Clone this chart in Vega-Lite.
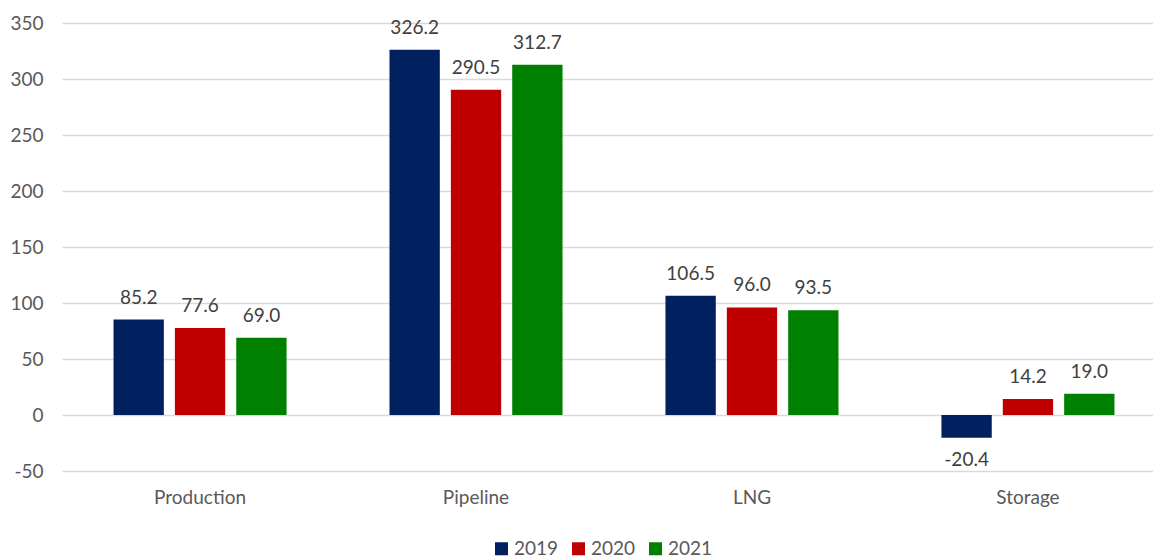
{
  "$schema": "https://vega.github.io/schema/vega-lite/v6.json",
  "width": 1104,
  "height": 448,
  "autosize": "none",
  "padding": {"left": 62, "top": 23, "right": 0, "bottom": 87},
  "config": {"view": {"stroke": null}, "font": "Lato", "text": {"font": "Lato"},
    "locale": {"number": {"decimal": ".", "thousands": ",", "grouping": [3], "currency": ["$", ""], "minus": "-"}}},
  "data": {"values": [
    {"category": "Production", "year": "2019", "value": 85.2},
    {"category": "Production", "year": "2020", "value": 77.6},
    {"category": "Production", "year": "2021", "value": 69.0},
    {"category": "Pipeline", "year": "2019", "value": 326.2},
    {"category": "Pipeline", "year": "2020", "value": 290.5},
    {"category": "Pipeline", "year": "2021", "value": 312.7},
    {"category": "LNG", "year": "2019", "value": 106.5},
    {"category": "LNG", "year": "2020", "value": 96.0},
    {"category": "LNG", "year": "2021", "value": 93.5},
    {"category": "Storage", "year": "2019", "value": -20.4},
    {"category": "Storage", "year": "2020", "value": 14.2},
    {"category": "Storage", "year": "2021", "value": 19.0}
  ]},
  "encoding": {
    "x": {"field": "category", "type": "nominal", "sort": ["Production", "Pipeline", "LNG", "Storage"],
      "scale": {"paddingInner": 0.333, "paddingOuter": 0.1667},
      "axis": {"title": null, "labelAngle": 0, "ticks": false, "domain": false, "labelPadding": 17, "labelFontSize": 19, "labelColor": "#595959", "labelFont": "Lato"}},
    "xOffset": {"field": "year", "type": "nominal", "scale": {"paddingInner": 0.18, "paddingOuter": 0.09}},
    "y": {"field": "value", "type": "quantitative", "scale": {"domain": [-50, 350], "nice": false, "zero": false},
      "axis": {"title": null, "values": [-50, 0, 50, 100, 150, 200, 250, 300, 350], "domain": false, "ticks": false, "labelPadding": 19, "labelFontSize": 19, "labelColor": "#595959", "labelFont": "Lato", "gridColor": "#d9d9d9", "gridWidth": 1.5}},
    "color": {"field": "year", "type": "nominal", "scale": {"domain": ["2019", "2020", "2021"], "range": ["#002060", "#C00000", "#008000"]},
      "legend": {"title": null, "orient": "none", "legendX": 430, "legendY": 516, "direction": "horizontal", "symbolType": "square", "symbolSize": 169, "symbolStrokeWidth": 0, "labelFontSize": 19, "labelColor": "#595959", "labelFont": "Lato", "columnPadding": 10, "labelOffset": 3}}
  },
  "layer": [
    {"mark": {"type": "bar"}},
    {"transform": [{"filter": "datum.value >= 0"}],
     "mark": {"type": "text", "baseline": "bottom", "dy": -12, "fontSize": 19, "color": "#404040"},
     "encoding": {"text": {"field": "value", "type": "quantitative", "format": ".1f"}, "color": {"value": "#404040"}}},
    {"transform": [{"filter": "datum.value < 0"}],
     "mark": {"type": "text", "baseline": "top", "dy": 13, "fontSize": 19, "color": "#404040"},
     "encoding": {"text": {"field": "value", "type": "quantitative", "format": ".1f"}, "color": {"value": "#404040"}}}
  ]
}
